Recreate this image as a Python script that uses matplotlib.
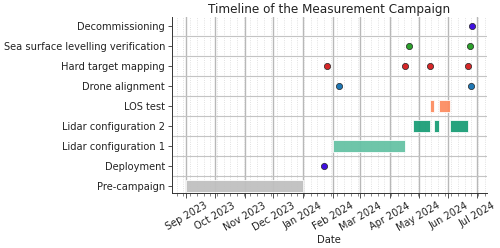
import matplotlib
matplotlib.use("Agg")
import matplotlib.pyplot as plt
import matplotlib.dates as mdates
from matplotlib.ticker import FixedLocator, NullFormatter
import pandas as pd

categories = ["Pre-campaign", "Deployment", "Lidar configuration 1", "Lidar configuration 2",
              "LOS test", "Drone alignment", "Hard target mapping",
              "Sea surface levelling verification", "Decommissioning"]

# Period activities: (start, end)
pre_campaign = [("2023-09-01", "2024-01-01")]
lidar_cfg1 = [("2024-02-01", "2024-04-17")]
lidar_cfg2 = [("2024-04-25", "2024-05-13"), ("2024-05-17", "2024-05-22"), ("2024-06-03", "2024-06-21")]
los_test = [("2024-05-13", "2024-05-17"), ("2024-05-22", "2024-06-03")]

# Point events
deployment = ["2024-01-23"]
drone_alignment = ["2024-02-08", "2024-06-25"]
hard_target = ["2024-01-26", "2024-04-17", "2024-05-13", "2024-06-21"]
sea_surface = ["2024-04-21", "2024-06-24"]
decommissioning = ["2024-06-26"]

periods = [("Pre-campaign", pre_campaign, "#c0c0c0"),
           ("Lidar configuration 1", lidar_cfg1, "#66c2a5"),
           ("Lidar configuration 2", lidar_cfg2, "#1b9e77"),
           ("LOS test", los_test, "#fc8d62")]
events = [("Deployment", deployment, "#4010e0"),
          ("Drone alignment", drone_alignment, "#1f77b4"),
          ("Hard target mapping", hard_target, "#d62728"),
          ("Sea surface levelling verification", sea_surface, "#2ca02c"),
          ("Decommissioning", decommissioning, "#4010e0")]

plt.rcParams['font.family'] = ['DejaVu Sans']
fig = plt.figure(figsize=(5, 2.48), dpi=100)
ax = fig.add_axes([0.344, 0.222, 0.6294, 0.7095])

ypos = {c: i for i, c in enumerate(categories)}

for cat, segs, col in periods:
    for s, e in segs:
        s_d = mdates.date2num(pd.Timestamp(s))
        e_d = mdates.date2num(pd.Timestamp(e))
        ax.barh(ypos[cat], e_d - s_d, left=s_d, height=0.6, color=col,
                edgecolor="white", linewidth=0.6, alpha=0.95, zorder=1)

for cat, dates, col in events:
    xs = [mdates.date2num(pd.Timestamp(d)) for d in dates]
    ax.scatter(xs, [ypos[cat]] * len(xs), s=20, color=col,
               edgecolor="#222222", linewidth=0.5, zorder=3)

ax.set_yticks(range(len(categories)))
ax.set_yticklabels(categories, fontsize=7.1)
ax.yaxis.set_minor_locator(FixedLocator([i + 0.5 for i in range(len(categories) - 1)]))
ax.tick_params(axis='y', which='minor', length=0)
ax.tick_params(axis='y', which='major', length=3, width=0.6, pad=2,
               colors='#333333', labelcolor='#222222')

ax.xaxis.set_major_locator(mdates.MonthLocator())
ax.xaxis.set_major_formatter(mdates.DateFormatter("%b %Y"))
ax.xaxis.set_minor_locator(mdates.WeekdayLocator())
ax.xaxis.set_minor_formatter(NullFormatter())
ax.tick_params(axis='x', which='major', length=3.5, width=0.6, labelsize=7.0, pad=2,
               colors='#333333', labelcolor='#222222')
ax.tick_params(axis='x', which='minor', length=2, width=0.5, colors='#555555')
for lab in ax.get_xticklabels():
    lab.set_rotation(30)
    lab.set_ha('center')

ax.set_xlim(mdates.date2num(pd.Timestamp("2023-08-17")), mdates.date2num(pd.Timestamp("2024-07-11")))
ax.set_ylim(-0.35, 8.46)

ax.grid(axis='x', which='major', color='#b8b8b8', linewidth=1.0, zorder=0)
ax.grid(axis='x', which='minor', color='#d8d8d8', linestyle=':', linewidth=0.6, zorder=0)
ax.grid(axis='y', which='minor', color='#c4c4c4', linewidth=0.8, zorder=0)
ax.set_axisbelow(True)

for sp in ['top', 'right']:
    ax.spines[sp].set_visible(False)
for sp in ['left', 'bottom']:
    ax.spines[sp].set_color('#333333')
    ax.spines[sp].set_linewidth(0.7)

ax.set_title("Timeline of the Measurement Campaign", fontsize=8.64, pad=3, color='#222222')
ax.set_xlabel("Date", fontsize=7.2, labelpad=1, color='#222222')

fig.savefig("out.png", dpi=100)
